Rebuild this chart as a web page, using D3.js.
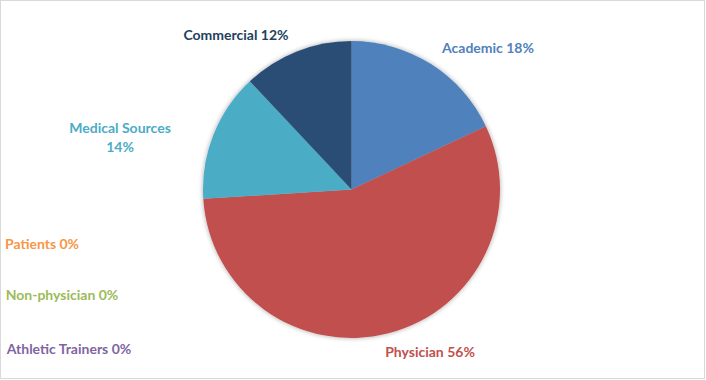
<!DOCTYPE html>
<html><head><meta charset="utf-8">
<script src="https://cdn.jsdelivr.net/npm/d3@7"></script>
<style>
html,body{margin:0;padding:0;background:#fff;}
svg{display:block;}
text{font-family:Lato,"Open Sans",sans-serif;font-weight:bold;font-size:14px;}
</style></head><body>
<svg id="chart" width="706" height="380"></svg>
<script>
const categories = ["Academic","Physician","Patients","Non-physician","Athletic Trainers","Medical Sources","Commercial"];
const values = [18,56,0,0,0,14,12];
const colors = ["#4F81BD","#C0504D","#F79646","#9BBB59","#8064A2","#4BACC6","#2C4D75"];
const textColors = ["#4F81BD","#C0504D","#F79646","#9BBB59","#8064A2","#4BACC6","#243F60"];
// label anchor points (center of text)
const labelPos = [[488,48],[430,352],[42,244],[62,295],[69,349],[120,138],[236,35]];

const svg = d3.select("#chart");
svg.append("rect").attr("x",0.5).attr("y",0.5).attr("width",704).attr("height",378)
  .attr("fill","#fff").attr("stroke","#D9D9D9").attr("stroke-width",1);

const defs = svg.append("defs");
const f = defs.append("filter").attr("id","sh").attr("x","-20%").attr("y","-20%").attr("width","140%").attr("height","140%");
f.append("feGaussianBlur").attr("in","SourceAlpha").attr("stdDeviation",2.5).attr("result","b");
f.append("feComponentTransfer").attr("in","b").attr("result","o2").append("feFuncA").attr("type","linear").attr("slope",0.35);
const m = f.append("feMerge"); m.append("feMergeNode").attr("in","o2"); m.append("feMergeNode").attr("in","SourceGraphic");

const cx = 351.5, cy = 189.5, r = 148.5;
const data = categories.map((c,i)=>({name:c,value:values[i],i}));
const pie = d3.pie().value(d=>d.value).sort(null);
const arc = d3.arc().innerRadius(0).outerRadius(r);
const g = svg.append("g").attr("transform",`translate(${cx},${cy})`).attr("filter","url(#sh)");
g.selectAll("path").data(pie(data).filter(d=>d.data.value>0)).join("path")
  .attr("d",arc).attr("fill",d=>colors[d.data.i]);

const labels = svg.append("g");
data.forEach((d,i)=>{
  const [x,y] = labelPos[i];
  const t = labels.append("text").attr("text-anchor","middle").attr("fill",textColors[i]);
  if(d.name==="Medical Sources"){
    t.append("tspan").attr("x",x).attr("y",y-5).text(d.name);
    t.append("tspan").attr("x",x).attr("y",y+14).text(d.value+"%");
  } else {
    t.attr("x",x).attr("y",y+5).text(d.name+" "+d.value+"%");
  }
});
</script>
</body></html>
